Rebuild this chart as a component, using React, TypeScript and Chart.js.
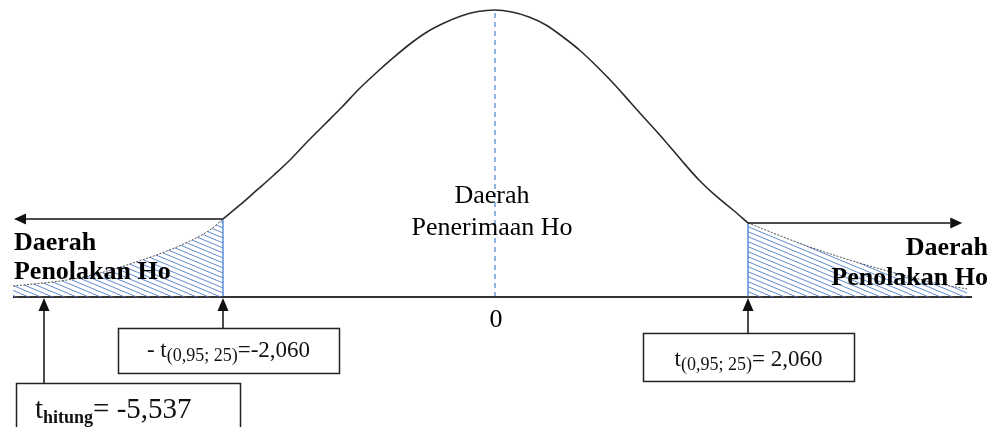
import { useEffect, useRef } from 'react';
import { Chart, registerables, LinearScale } from 'chart.js';

// Student t curve (df = 25) sampled along the drawn bell shape
const curveT = [
  -6.139, -5.751, -5.09, -4.449, -3.808, -3.148, -2.701, -2.313, -2.06,
  -1.931, -1.802, -1.674, -1.545, -1.416, -1.287, -1.159, -1.03,
  -0.901, -0.772, -0.644, -0.515, -0.386, -0.257, -0.129, 0,
  0.138, 0.277, 0.415, 0.554, 0.692, 0.83, 0.969, 1.107,
  1.246, 1.384, 1.523, 1.661, 1.799, 1.938, 2.06,
  2.546, 3.206, 3.847, 4.488, 5.149, 5.79, 6.314,
];
const curveDensity = [
  0.0151, 0.0178, 0.0233, 0.0329, 0.0467, 0.0631, 0.0769, 0.092, 0.1071,
  0.1263, 0.1469, 0.1675, 0.1894, 0.2142, 0.2375, 0.2608, 0.2855,
  0.3075, 0.3281, 0.3473, 0.3638, 0.3761, 0.3858, 0.3919, 0.394,
  0.3912, 0.3844, 0.3734, 0.3569, 0.3384, 0.3164, 0.2924, 0.2663,
  0.2402, 0.2142, 0.1867, 0.1606, 0.1387, 0.1194, 0.1016,
  0.0879, 0.07, 0.0549, 0.0412, 0.0288, 0.0178, 0.011,
];

const tCritical = 2.06; // t(0,95; 25)
const tHitung = -5.537;
const axisFrom = -6.14;
const axisTo = 6.41;
const arrowTipLeft = -6.12;
const arrowTipRight = 6.22;

const acceptLabel = ['Daerah', 'Penerimaan Ho'];
const rejectLabel = ['Daerah', 'Penolakan Ho'];
const zeroLabel = '0';
const critSub = '(0,95; 25)';
const critLeftValue = '=-2,060';
const critRightValue = '= 2,060';
const hitungSub = 'hitung';
const hitungValue = '= -5,537';

// Schematic axis: the tails beyond the critical values are compressed
const KNOT_T = [-6.392, -5.537, -2.06, 0, 2.06, 6.934];
const KNOT_F = [0, 44, 223, 495, 748, 999].map((p) => p / 999);
const Y_MIN = -0.1785;
const Y_MAX = 0.4077;

const SERIF = "'Liberation Serif', 'Times New Roman', serif";

function interp(v: number, from: number[], to: number[]) {
  const n = from.length;
  let i = 0;
  if (v <= from[0]) i = 0;
  else if (v >= from[n - 1]) i = n - 2;
  else while (i < n - 2 && v > from[i + 1]) i++;
  const r = (v - from[i]) / (from[i + 1] - from[i]);
  return to[i] + r * (to[i + 1] - to[i]);
}

class SchematicScale extends LinearScale {
  static id = 'schematic';
  static defaults = LinearScale.defaults;
  getPixelForValue(value: number) {
    if (value === null || value === undefined || isNaN(value)) return NaN;
    return (this as any).left + interp(value, KNOT_T, KNOT_F) * (this as any).width;
  }
  getValueForPixel(pixel: number) {
    return interp((pixel - (this as any).left) / (this as any).width, KNOT_F, KNOT_T);
  }
}

Chart.register(...registerables, SchematicScale as any);

const densityAt = (t: number) => curveDensity[curveT.indexOf(t)];
const pts = (filter: (t: number) => boolean) =>
  curveT.map((t, i) => ({ x: t, y: curveDensity[i] })).filter((p) => filter(p.x));

type Run = { text: string; font: string; dy?: number };

function runsWidth(ctx: CanvasRenderingContext2D, runs: Run[]) {
  let w = 0;
  for (const r of runs) {
    ctx.font = r.font;
    w += ctx.measureText(r.text).width;
  }
  return w;
}

function drawRuns(ctx: CanvasRenderingContext2D, runs: Run[], x: number, y: number) {
  let cx = x;
  for (const r of runs) {
    ctx.font = r.font;
    ctx.fillText(r.text, cx, y + (r.dy || 0));
    cx += ctx.measureText(r.text).width;
  }
}

function arrow(ctx: CanvasRenderingContext2D, x1: number, y1: number, x2: number, y2: number, len: number, half: number) {
  const a = Math.atan2(y2 - y1, x2 - x1);
  const bx = x2 - Math.cos(a) * len;
  const by = y2 - Math.sin(a) * len;
  ctx.beginPath();
  ctx.moveTo(x1, y1);
  ctx.lineTo(bx, by);
  ctx.stroke();
  ctx.beginPath();
  ctx.moveTo(x2, y2);
  ctx.lineTo(bx + Math.sin(a) * half, by - Math.cos(a) * half);
  ctx.lineTo(bx - Math.sin(a) * half, by + Math.cos(a) * half);
  ctx.closePath();
  ctx.fill();
}

const boxes = [
  {
    t: tHitung, dx: -28, w: 224, top: 86, h: 60, textY: 121, align: 'left', pad: 19,
    runs: [
      { text: 't', font: `29px ${SERIF}` },
      { text: hitungSub, font: `bold 18px ${SERIF}`, dy: 5 },
      { text: hitungValue, font: `29px ${SERIF}` },
    ],
  },
  {
    t: -tCritical, dx: -105, w: 221, top: 31, h: 45, textY: 60, align: 'center', pad: 0,
    runs: [
      { text: '- t', font: `23px ${SERIF}` },
      { text: critSub, font: `18px ${SERIF}`, dy: 4 },
      { text: critLeftValue, font: `23px ${SERIF}` },
    ],
  },
  {
    t: tCritical, dx: -105, w: 211, top: 36, h: 48, textY: 69, align: 'center', pad: 0,
    runs: [
      { text: 't', font: `23px ${SERIF}` },
      { text: critSub, font: `18px ${SERIF}`, dy: 4 },
      { text: critRightValue, font: `23px ${SERIF}` },
    ],
  },
];

const annotations = {
  id: 'tTestAnnotations',
  afterDatasetsDraw(chart: any) {
    const ctx: CanvasRenderingContext2D = chart.ctx;
    const xs = chart.scales.x;
    const ys = chart.scales.y;
    const px = (t: number) => xs.getPixelForValue(t);
    const base = ys.getPixelForValue(0);
    ctx.save();
    ctx.strokeStyle = '#111';
    ctx.fillStyle = '#111';
    ctx.lineWidth = 1.5;

    // rejection-region arrows along the tails
    const yL = ys.getPixelForValue(densityAt(-tCritical));
    const yR = ys.getPixelForValue(densityAt(tCritical));
    arrow(ctx, px(-tCritical), yL, px(arrowTipLeft), yL, 12, 5.5);
    arrow(ctx, px(tCritical), yR, px(arrowTipRight), yR, 12, 5.5);

    // value boxes with arrows pointing at the axis
    ctx.textBaseline = 'alphabetic';
    ctx.textAlign = 'left';
    for (const b of boxes) {
      const ax = px(b.t);
      const left = ax + b.dx;
      const top = base + b.top;
      ctx.lineWidth = 1.5;
      arrow(ctx, ax, top, ax, base + 1, 13, 5.5);
      ctx.strokeStyle = '#222';
      ctx.strokeRect(left + 0.5, top + 0.5, b.w, b.h);
      ctx.strokeStyle = '#111';
      const w = runsWidth(ctx, b.runs);
      const tx = b.align === 'center' ? left + (b.w - w) / 2 : left + b.pad;
      drawRuns(ctx, b.runs, tx, base + b.textY);
    }

    // region labels
    ctx.fillStyle = '#000';
    ctx.font = `26px ${SERIF}`;
    ctx.textAlign = 'center';
    const cx = px(0) - 3;
    ctx.fillText(acceptLabel[0], cx, base - 94);
    ctx.fillText(acceptLabel[1], cx, base - 62);
    ctx.fillText(zeroLabel, px(0) + 1, base + 30);

    ctx.font = `bold 26px ${SERIF}`;
    ctx.textAlign = 'left';
    ctx.fillText(rejectLabel[0], px(axisFrom) + 1, base - 47);
    ctx.fillText(rejectLabel[1], px(axisFrom) + 1, base - 18);
    ctx.textAlign = 'right';
    ctx.fillText(rejectLabel[0], chart.width - 11, base - 42);
    ctx.fillText(rejectLabel[1], chart.width - 11, base - 12);
    ctx.restore();
  },
};

function makeHatch(): CanvasPattern | string {
  const c = document.createElement('canvas');
  c.width = 12;
  c.height = 5;
  const g = c.getContext('2d');
  if (!g) return 'rgba(68,114,196,0.4)';
  g.strokeStyle = 'rgba(70,118,198,0.85)';
  g.lineWidth = 1;
  for (const d of [-5, 0, 5]) {
    g.beginPath();
    g.moveTo(0, d);
    g.lineTo(12, d + 5);
    g.stroke();
  }
  return g.createPattern(c, 'repeat') || 'rgba(68,114,196,0.4)';
}

export default function App() {
  const ref = useRef<HTMLCanvasElement>(null);

  useEffect(() => {
    if (!ref.current) return;
    const hatch = makeHatch();
    const peak = Math.max(...curveDensity);
    const chart = new Chart(ref.current, {
      type: 'line',
      data: {
        datasets: [
          {
            data: pts((t) => t <= -tCritical),
            fill: 'origin',
            backgroundColor: hatch as any,
            borderColor: 'rgba(50,50,50,0.85)',
            borderWidth: 1,
            borderDash: [2, 1.5],
            cubicInterpolationMode: 'monotone',
          },
          {
            data: pts((t) => t >= tCritical),
            fill: 'origin',
            backgroundColor: hatch as any,
            borderColor: 'rgba(50,50,50,0.85)',
            borderWidth: 1,
            borderDash: [2, 1.5],
            cubicInterpolationMode: 'monotone',
          },
          {
            data: pts((t) => t >= -tCritical && t <= tCritical),
            borderColor: '#2b2b2b',
            borderWidth: 1.6,
            fill: false,
            cubicInterpolationMode: 'monotone',
          },
          {
            data: [{ x: axisFrom, y: 0 }, { x: axisTo, y: 0 }],
            borderColor: '#333',
            borderWidth: 2,
            fill: false,
          },
          {
            data: [{ x: -tCritical, y: 0 }, { x: -tCritical, y: densityAt(-tCritical) }],
            borderColor: '#5b8fd8',
            borderWidth: 1.5,
            fill: false,
          },
          {
            data: [{ x: tCritical, y: 0 }, { x: tCritical, y: densityAt(tCritical) }],
            borderColor: '#5b8fd8',
            borderWidth: 1.5,
            fill: false,
          },
          {
            data: [{ x: 0, y: 0 }, { x: 0, y: peak }],
            borderColor: '#6d9ad8',
            borderWidth: 1.5,
            borderDash: [5, 4],
            fill: false,
          },
        ],
      },
      options: {
        animation: false,
        responsive: false,
        devicePixelRatio: 1,
        events: [],
        layout: { padding: 0 },
        elements: { point: { radius: 0 } },
        plugins: { legend: { display: false }, tooltip: { enabled: false } },
        scales: {
          x: { type: 'schematic' as any, min: KNOT_T[0], max: KNOT_T[KNOT_T.length - 1], display: false },
          y: { type: 'linear', min: Y_MIN, max: Y_MAX, display: false },
        },
      },
      plugins: [annotations],
    });
    return () => chart.destroy();
  }, []);

  return (
    <div style={{ position: 'absolute', left: 0, top: 0, width: 999, height: 427, background: '#fff' }}>
      <canvas ref={ref} width={999} height={427} style={{ display: 'block' }} />
    </div>
  );
}
